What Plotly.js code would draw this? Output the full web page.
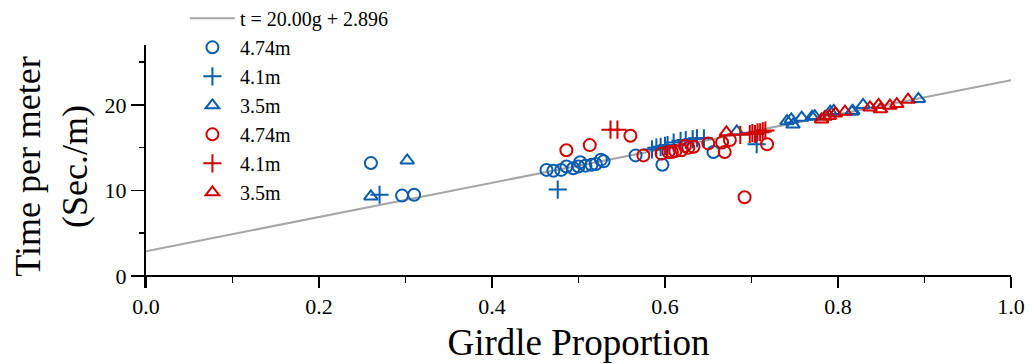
<!DOCTYPE html>
<html>
<head>
<meta charset="utf-8">
<script src="https://cdn.plot.ly/plotly-3.0.1.min.js"></script>
<style>html,body{margin:0;padding:0;background:#fff;}#chart{width:1030px;height:364px;}</style>
</head>
<body>
<div id="chart"></div>
<script>
// Fit line parameters (t = slope*g + intercept)
const fitSlope = 20.00;
const fitIntercept = 2.896;
const fitX = [0, 1];
const fitLabel = "t = 20.00g + 2.896";

// Series names
const seriesNames = ["4.74m", "4.1m", "3.5m", "4.74m", "4.1m", "3.5m"];

// Blue group
const blueCircleX = [0.260, 0.296, 0.310, 0.463, 0.471, 0.480, 0.486, 0.494, 0.500, 0.502, 0.508, 0.515, 0.520, 0.526, 0.529, 0.566, 0.597, 0.656];
const blueCircleY = [13.2, 9.4, 9.5, 12.4, 12.3, 12.4, 12.8, 12.6, 12.8, 13.3, 12.9, 13.0, 13.1, 13.6, 13.4, 14.1, 13.0, 14.5];
const bluePlusX = [0.270, 0.476, 0.585, 0.590, 0.595, 0.600, 0.603, 0.610, 0.618, 0.624, 0.632, 0.637, 0.645, 0.706];
const bluePlusY = [9.5, 10.1, 14.8, 15.0, 15.1, 15.2, 15.3, 15.6, 15.8, 15.9, 16.0, 16.1, 16.1, 15.4];
const blueTriX = [0.260, 0.302, 0.683, 0.741, 0.746, 0.748, 0.758, 0.770, 0.773, 0.791, 0.795, 0.816, 0.817, 0.829, 0.893];
const blueTriY = [9.3, 13.5, 16.9, 18.1, 18.3, 17.7, 18.5, 18.6, 18.7, 19.2, 19.3, 19.2, 19.3, 20.0, 20.7];

// Red group
const redCircleX = [0.486, 0.513, 0.560, 0.575, 0.596, 0.604, 0.608, 0.612, 0.619, 0.623, 0.627, 0.633, 0.650, 0.666, 0.669, 0.675, 0.692, 0.718];
const redCircleY = [14.7, 15.3, 16.4, 14.1, 14.3, 14.5, 14.5, 14.6, 14.7, 15.2, 15.0, 15.1, 15.5, 15.6, 14.5, 15.9, 9.2, 15.4];
const redPlusX = [0.537, 0.545, 0.687, 0.698, 0.701, 0.704, 0.707, 0.710, 0.713, 0.716];
const redPlusY = [17.1, 17.1, 16.5, 16.6, 16.7, 16.6, 16.8, 16.8, 16.9, 17.0];
const redTriX = [0.671, 0.781, 0.785, 0.790, 0.797, 0.808, 0.837, 0.847, 0.849, 0.860, 0.868, 0.881];
const redTriY = [16.8, 18.3, 18.6, 18.7, 19.0, 19.2, 19.7, 20.0, 19.5, 19.9, 20.1, 20.6];

const xTickVals = [0, 0.2, 0.4, 0.6, 0.8, 1.0];
const xTickText = ["0.0", "0.2", "0.4", "0.6", "0.8", "1.0"];
const yTickVals = [0, 10, 20];
const yTickText = ["0", "10", "20"];

const BLUE = "#0b5cad";
const RED = "#d00000";
const FONT = "Liberation Serif, Times New Roman, serif";

function mk(x, y, name, symbol, color, size) {
  return {
    type: "scatter", mode: "markers", x: x, y: y, name: name,
    marker: {symbol: symbol, size: size, color: color, line: {color: color, width: 2}},
    cliponaxis: false
  };
}

const fitY = fitX.map(v => fitSlope * v + fitIntercept);

const traces = [
  {type: "scatter", mode: "lines", x: fitX, y: fitY, name: fitLabel,
   line: {color: "#a6a6a6", width: 2}},
  mk(blueCircleX, blueCircleY, seriesNames[0], "circle-open", BLUE, 12),
  mk(bluePlusX, bluePlusY, seriesNames[1], "cross-thin-open", BLUE, 13),
  mk(blueTriX, blueTriY, seriesNames[2], "triangle-up-open", BLUE, 12),
  mk(redCircleX, redCircleY, seriesNames[3], "circle-open", RED, 12),
  mk(redPlusX, redPlusY, seriesNames[4], "cross-thin-open", RED, 13),
  mk(redTriX, redTriY, seriesNames[5], "triangle-up-open", RED, 12)
];

const yMin = -1.4, yMax = 27;

const layout = {
  width: 1030, height: 364,
  margin: {l: 146, r: 19, t: 45, b: 76, autoexpand: false},
  paper_bgcolor: "#fff", plot_bgcolor: "#fff",
  font: {family: FONT, color: "#000", size: 20},
  showlegend: true,
  legend: {
    x: 0.045, y: 1.19, xanchor: "left", yanchor: "top",
    bgcolor: "rgba(0,0,0,0)", font: {family: FONT, size: 20, color: "#000"},
    tracegroupgap: 0, itemwidth: 45, maxheight: 340
  },
  xaxis: {
    range: [0, 1], anchor: "free", position: (0 - yMin) / (yMax - yMin),
    showline: true, linecolor: "#000", linewidth: 2,
    ticks: "outside", ticklen: 11, tickwidth: 1.5, tickcolor: "#000",
    tickvals: xTickVals, ticktext: xTickText,
    minor: {dtick: 0.1, tick0: 0, ticks: "outside", ticklen: 6, tickwidth: 1.5, tickcolor: "#000"},
    showgrid: false, zeroline: false,
    tickfont: {family: FONT, size: 22},
    title: {text: "Girdle Proportion", font: {family: FONT, size: 37}, standoff: 10}
  },
  yaxis: {
    range: [yMin, yMax],
    showline: true, linecolor: "#000", linewidth: 2,
    ticks: "outside", ticklen: 13, tickwidth: 1.5, tickcolor: "#000",
    tickvals: yTickVals, ticktext: yTickText,
    minor: {dtick: 5, tick0: 0, ticks: "outside", ticklen: 5, tickwidth: 1.5, tickcolor: "#000"},
    showgrid: false, zeroline: false,
    tickfont: {family: FONT, size: 22},
    title: {text: "Time per meter<br>(Sec./m)", font: {family: FONT, size: 36}, standoff: 6}
  }
};

Plotly.newPlot("chart", traces, layout, {staticPlot: true, displayModeBar: false});
</script>
</body>
</html>
